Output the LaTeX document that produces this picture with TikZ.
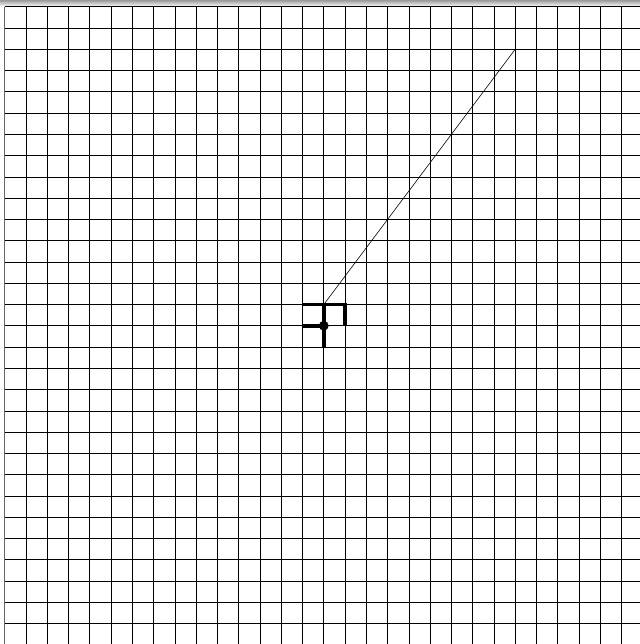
\documentclass[tikz,border=0pt]{standalone}
\begin{document}
\begin{tikzpicture}[x=1cm,y=-1cm,
  gridline/.style={line width=0.85pt, black},
  heavy/.style={line width=5pt, black},
  thinline/.style={line width=0.8pt, black}]
\useasboundingbox (-0.22,-0.314) rectangle (29.86,29.96);
\fill[white] (-0.22,-0.314) rectangle (29.86,29.96);
\shade[top color=gray!80, bottom color=gray!15] (-0.22,-0.314) rectangle (29.86,-0.06);
% grid
\foreach \i in {0,...,29} {
  \draw[gridline] (\i,0) -- (\i,29.96);
  \draw[gridline] (0,\i) -- (29.86,\i);
}
\draw[line width=1.6pt, black!60] (0,0) -- (0,29.96);
% named points
\coordinate (center) at (15,15);
\coordinate (top) at (15,14);
\coordinate (tl) at (14,14);
\coordinate (tr) at (16,14);
\coordinate (rb) at (16,15);
\coordinate (left) at (14,15);
\coordinate (bottom) at (15,16);
\coordinate (far) at (24,2);
% thin line
\draw[thinline] (top) -- (far);
% heavy shape
\draw[heavy] (tl) -- (tr) -- (rb);
\draw[heavy] (top) -- (bottom);
\draw[heavy] (left) -- (center);
\fill (center) circle (0.23);
\end{tikzpicture}
\end{document}
